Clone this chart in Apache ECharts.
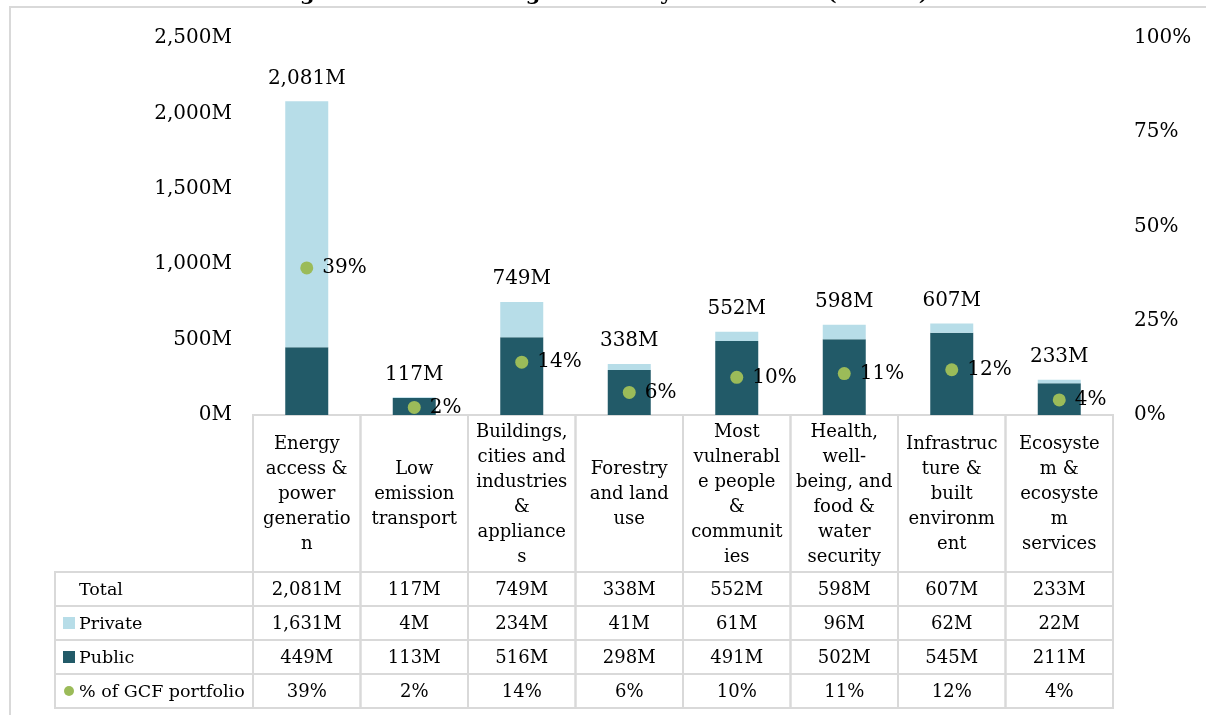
<!DOCTYPE html>
<html>
<head>
<meta charset="utf-8">
<script src="https://cdn.jsdelivr.net/npm/echarts@6/dist/echarts.min.js"></script>
<style>
html,body{margin:0;padding:0;background:#fff;}
#chart{width:1206px;height:715px;}
</style>
</head>
<body>
<div id="chart"></div>
<script>
const categories = [
  'Energy\naccess &\npower\ngeneratio\nn',
  'Low\nemission\ntransport',
  'Buildings,\ncities and\nindustries\n&\nappliance\ns',
  'Forestry\nand land\nuse',
  'Most\nvulnerabl\ne people\n&\ncommunit\nies',
  'Health,\nwell-\nbeing, and\nfood &\nwater\nsecurity',
  'Infrastruc\nture &\nbuilt\nenvironm\nent',
  'Ecosyste\nm &\necosyste\nm\nservices'
];
const totalValues   = [2081, 117, 749, 338, 552, 598, 607, 233];
const privateValues = [1631, 4, 234, 41, 61, 96, 62, 22];
const publicValues  = [449, 113, 516, 298, 491, 502, 545, 211];
const pctValues     = [39, 2, 14, 6, 10, 11, 12, 4];
const rowLabels = ['Total', 'Private', 'Public', '% of GCF portfolio'];
const titleText = 'Figure 6: GCF funding amount by results area (in USD)';

const FONT = '"DejaVu Serif", "Liberation Serif", serif';
const C_PRIVATE = '#b7dde8';
const C_PUBLIC = '#225a68';
const C_PCT = '#9bbb59';
const C_GRID = '#d9d9d9';

function fmtM(v) {
  return String(v).replace(/\B(?=(\d{3})+(?!\d))/g, ',') + 'M';
}
function cellText(c, r) {
  if (r === 0) return categories[c];
  if (r === 1) return fmtM(totalValues[c]);
  if (r === 2) return fmtM(privateValues[c]);
  if (r === 3) return fmtM(publicValues[c]);
  return pctValues[c] + '%';
}

// table layout (row edges in grid-local pixels)
const rowEdges = [0, 157, 191, 225, 259, 293];
const headerColWidth = 198;

const tableData = [];
for (let r = 0; r < 5; r++) {
  for (let c = 0; c < categories.length; c++) tableData.push([c, r]);
}

function renderCell(params, api) {
  const c = api.value(0), r = api.value(1);
  const cs = params.coordSys;
  const bw = api.size([1, 0])[0];
  const xc = api.coord([c, 0])[0];
  const top = api.coord([c, rowEdges[r]])[1];
  const bot = api.coord([c, rowEdges[r + 1]])[1];
  const children = [];
  children.push({
    type: 'rect',
    shape: { x: xc - bw / 2, y: top, width: bw, height: bot - top },
    style: { fill: null, stroke: C_GRID, lineWidth: 2 }
  });
  children.push({
    type: 'text',
    style: {
      text: cellText(c, r), x: xc, y: (top + bot) / 2 + 1,
      align: 'center', verticalAlign: 'middle',
      font: '18px ' + FONT, lineHeight: 25, fill: '#000'
    }
  });
  if (c === 0 && r >= 1) {
    const hx = cs.x - headerColWidth;
    const ym = (top + bot) / 2;
    children.push({
      type: 'rect',
      shape: { x: hx, y: top, width: headerColWidth, height: bot - top },
      style: { fill: null, stroke: C_GRID, lineWidth: 2 }
    });
    if (r === 2 || r === 3) {
      children.push({
        type: 'rect',
        shape: { x: hx + 8, y: ym - 6, width: 12, height: 12 },
        style: { fill: r === 2 ? C_PRIVATE : C_PUBLIC }
      });
    } else if (r === 4) {
      children.push({
        type: 'circle',
        shape: { cx: hx + 14, cy: ym, r: 5 },
        style: { fill: C_PCT }
      });
    }
    children.push({
      type: 'text',
      style: {
        text: rowLabels[r - 1], x: hx + 24, y: ym + 1,
        align: 'left', verticalAlign: 'middle',
        font: '17.5px ' + FONT, fill: '#000'
      }
    });
  }
  return { type: 'group', children: children };
}

const chart = echarts.init(document.getElementById('chart'), null, { renderer: 'canvas' });
chart.setOption({
  animation: false,
  backgroundColor: '#fff',
  textStyle: { fontFamily: FONT },
  title: {
    text: titleText, left: 'center', top: -21,
    textStyle: { fontFamily: FONT, fontWeight: 'bold', fontSize: 21, color: '#000' }
  },
  graphic: [{
    type: 'rect', z: -10, silent: true,
    shape: { x: 10, y: 7, width: 1400, height: 900 },
    style: { fill: null, stroke: C_GRID, lineWidth: 2 }
  }],
  grid: [
    { left: 253, right: 93, top: 38, height: 377 },
    { left: 253, right: 93, top: 415, height: 293 }
  ],
  xAxis: [
    { type: 'category', gridIndex: 0, data: categories,
      axisLine: { show: false }, axisTick: { show: false }, axisLabel: { show: false }, splitLine: { show: false } },
    { type: 'category', gridIndex: 1, data: categories, show: false }
  ],
  yAxis: [
    { type: 'value', gridIndex: 0, min: 0, max: 2500, interval: 500, position: 'left',
      axisLine: { show: false }, axisTick: { show: false }, splitLine: { show: false },
      axisLabel: { margin: 21, fontSize: 20, fontFamily: FONT, color: '#000', formatter: v => fmtM(v) } },
    { type: 'value', gridIndex: 0, min: 0, max: 100, interval: 25, position: 'right',
      axisLine: { show: false }, axisTick: { show: false }, splitLine: { show: false },
      axisLabel: { margin: 21, fontSize: 20, fontFamily: FONT, color: '#000', formatter: '{value}%' } },
    { type: 'value', gridIndex: 1, min: 0, max: 293, inverse: true, show: false }
  ],
  series: [
    { name: 'Public', type: 'bar', stack: 'amt', xAxisIndex: 0, yAxisIndex: 0,
      barWidth: 43, data: publicValues, itemStyle: { color: C_PUBLIC } },
    { name: 'Private', type: 'bar', stack: 'amt', xAxisIndex: 0, yAxisIndex: 0,
      barWidth: 43, data: privateValues, itemStyle: { color: C_PRIVATE },
      label: { show: true, position: 'top', distance: 13, fontSize: 20, fontFamily: FONT, color: '#000',
        formatter: p => fmtM(totalValues[p.dataIndex]) } },
    { name: '% of GCF portfolio', type: 'scatter', xAxisIndex: 0, yAxisIndex: 1, z: 5,
      symbolSize: 13, data: pctValues, itemStyle: { color: C_PCT, opacity: 1 },
      label: { show: true, position: 'right', distance: 9, fontSize: 20, fontFamily: FONT, color: '#000',
        formatter: p => p.value + '%' } },
    { type: 'custom', xAxisIndex: 1, yAxisIndex: 2, data: tableData, renderItem: renderCell, silent: true }
  ]
});
</script>
</body>
</html>
